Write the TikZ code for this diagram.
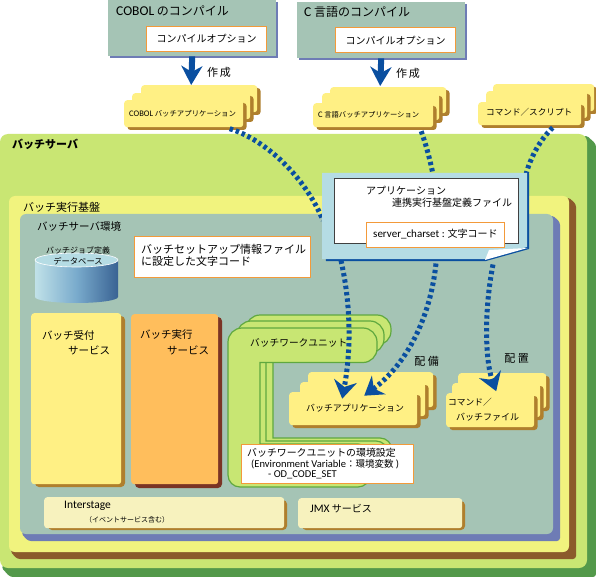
\documentclass[tikz,border=0pt]{standalone}
\usepackage{fontspec}
\setmainfont{Noto Sans CJK JP}
\newfontfamily\lat{Carlito}
\usetikzlibrary{arrows.meta,calc}
\definecolor{cgreen}{HTML}{C9E673}
\definecolor{cdgreen}{HTML}{53994A}
\definecolor{cyel}{HTML}{F1F37E}
\definecolor{cbrown}{HTML}{8B5A2B}
\definecolor{cteal}{HTML}{A5C4B5}
\definecolor{cpurp}{HTML}{6E7CB5}
\definecolor{cnote}{HTML}{B5DCE4}
\definecolor{cblue}{HTML}{0A4FA0}
\definecolor{corange}{HTML}{F39A3A}
\definecolor{ccard}{HTML}{FFF084}
\definecolor{ccardsh}{HTML}{AF7F2D}
\definecolor{cexec}{HTML}{FFBE5C}
\definecolor{cexecsh}{HTML}{7B3425}
\definecolor{cpale}{HTML}{F7F2BE}
\definecolor{cwork}{HTML}{C8E673}
\definecolor{cworkl}{HTML}{5FA83F}
\newcommand\fs[1]{\fontsize{#1}{#1}\selectfont}
\newcommand\bevelbox[8]{%
  \fill[#7,rounded corners=3pt] (#3-1,#2+1) -- (#3+#5,#2+1+#5) -- (#3+#5,#4+#5) -- (#1+1+#5,#4+#5) -- (#1+1,#4-1) -- cycle;
  \fill[#6,rounded corners=#8] (#1,#2) rectangle (#3,#4);
}
\tikzset{
  cardbox/.style={rounded corners=3pt,inner sep=0pt,align=left,text=black},
  lbl/.style={inner sep=0pt,anchor=west,align=left,text=black},
  orangebox/.style={draw=corange,line width=1pt,fill=white,inner sep=0pt},
  titlebox/.style={fill=cteal,inner sep=0pt},
  dotline/.style={cblue,line width=5pt,dash pattern=on 3.4pt off 3pt,-{Stealth[length=18pt,width=23pt,inset=6pt]}},
  dotplain/.style={cblue,line width=5pt,dash pattern=on 3.4pt off 3pt},
  makearrow/.style={cblue,line width=6pt,-{Stealth[length=19pt,width=21pt,inset=6pt]}},
  worklayer/.style={fill=cwork,draw=cworkl,line width=1.2pt},
}
\newcommand\cardlayer[8][]{%
  \fill[#7,rounded corners=3pt] (#3+3.5,#4+3) rectangle (#5+3.5,#6+3);
  \node[cardbox,fill=#8,minimum width=#5pt-#3pt,minimum height=#6pt-#4pt,anchor=north west] (#2) at (#3,#4) {#1};
}
% C-shaped work unit layer: L T R B(top bar) ix iy R2 B2
\newcommand\worklayershape[8]{%
  \draw[worklayer,rounded corners=14pt] (#1,#2+30) -- (#1,#2) -- (#3,#2) -- (#3,#4) [sharp corners] -- (#5,#4) -- (#5,#6) [rounded corners=12pt] -- (#7,#6) -- (#7,#8) -- (#1,#8) -- cycle;
}
\begin{document}
\begin{tikzpicture}[x=1pt,y=-1pt]
\useasboundingbox (0,0) rectangle (596,577);
\fill[white] (0,0) rectangle (596,577);

% compile boxes
\fill[cpurp] (110,2) rectangle (278,58);
\node[titlebox,minimum width=168pt,minimum height=56pt,anchor=north west] (cobolc) at (108,0) {};
\node[lbl] (cobolt) at (116,11) {\fs{12}{\lat\fs{13.5}COBOL} のコンパイル};
\node[orangebox,minimum width=120pt,minimum height=25pt,anchor=north west] (cobolo) at (146,26) {\fs{10}コンパイルオプション};

\fill[cpurp] (299,4) rectangle (467,60);
\node[titlebox,minimum width=168pt,minimum height=56pt,anchor=north west] (cc) at (297,2) {};
\node[lbl] (ct) at (304,12) {\fs{12}{\lat\fs{13.5}C} 言語のコンパイル};
\node[orangebox,minimum width=120pt,minimum height=25pt,anchor=north west] (co) at (335,27.5) {\fs{10}コンパイルオプション};

% server panels
\bevelbox{0}{134}{587}{568}{9}{cgreen}{cdgreen}{8pt}
\node[lbl] (srv) at (12,144) {\fs{11}\bfseries バッチサーバ};
\bevelbox{9}{196}{569}{552}{7}{cyel}{cbrown}{6pt}
\node[lbl] (base) at (23,207) {\fs{11}バッチ実行基盤};
\bevelbox{20}{214}{553}{534}{7}{cteal}{cpurp}{6pt}
\node[lbl] (env) at (37,227) {\fs{10.5}バッチサーバ環境};

% database
\shade[left color=cnote!85!white,right color=cblue!75!black!80,middle color=cblue!35!cnote]
  (35,260) -- (35,297) arc[start angle=180,end angle=360,x radius=41.5,y radius=-6] -- (118,260) arc[start angle=0,end angle=180,x radius=41.5,y radius=-7] -- cycle;
\draw[white,fill=cnote,line width=.6pt] (76.5,260) ellipse[x radius=41.5,y radius=7];
\node[inner sep=0pt] (db1) at (78,250) {\fs{8}バッチジョブ定義};
\node[inner sep=0pt] (db2) at (78,261) {\fs{8.3}データベース};

% setup box
\node[orangebox,minimum width=176pt,minimum height=41pt,anchor=north west] (setup) at (134,236) {};
\node[lbl] (setup1) at (141,249) {\fs{11}バッチセットアップ情報ファイル};
\node[lbl] (setup2) at (141,261) {\fs{11}に設定した文字コード};

% services
\fill[ccardsh,rounded corners=4pt] (35,316) rectangle (125,487);
\node[cardbox,fill=ccard,minimum width=90pt,minimum height=171pt,anchor=north west] (recv) at (31,313) {};
\node[lbl] (recv1) at (42,335) {\fs{10.5}バッチ受付};
\node[lbl] (recv2) at (68,350) {\fs{10.5}サービス};
\fill[cexecsh,rounded corners=4pt] (135,317) rectangle (222,488);
\node[cardbox,fill=cexec,minimum width=87pt,minimum height=170pt,anchor=north west] (exec) at (131,314) {};
\node[lbl] (exec1) at (140,335) {\fs{10.5}バッチ実行};
\node[lbl] (exec2) at (167,350) {\fs{10.5}サービス};

% work unit layers (C-shaped)
\worklayershape{246}{315}{391}{345}{273}{438}{392}{470}
\worklayershape{237}{321}{384}{353}{266}{441}{388}{478}
\worklayershape{228}{328}{377}{362.5}{260}{444}{370}{487}
\node[lbl] (wu) at (250,343) {\fs{9.7}バッチワークユニット};

% batch application stack
\cardlayer[]{appc}{308}{372}{433}{407}{ccardsh}{ccard}
\cardlayer[]{appb}{300}{382}{425}{416}{ccardsh}{ccard}
\cardlayer[]{appa}{289}{392}{417}{425}{ccardsh}{ccard}
\node[lbl] (appt) at (306,408) {\fs{8.9}バッチアプリケーション};
% command stack
\cardlayer[]{cmdc}{458}{373}{546}{408}{ccardsh}{ccard}
\cardlayer[]{cmdb}{452}{383}{540}{417}{ccardsh}{ccard}
\cardlayer[]{cmda}{446}{393}{534}{427}{ccardsh}{ccard}
\node[lbl] (cmd1) at (448,402) {\fs{8.7}コマンド／};
\node[lbl] (cmd2) at (456,417) {\fs{9}バッチファイル};

\node[inner sep=0pt] (hai1) at (426.5,361) {\fs{11}配\hspace{2.5pt}備};
\node[inner sep=0pt] (hai2) at (516.5,359) {\fs{11}配\hspace{2.5pt}置};

% env box
\node[orangebox,minimum width=172pt,minimum height=39pt,anchor=north west] (wenv) at (241,444) {};
\node[lbl] (wenv1) at (247,453) {\fs{9.9}バッチワークユニットの環境設定};
\node[lbl] (wenv2) at (251,464) {{\lat\fs{10.5}(Environment Variable}\fs{9.5}：環境変数 {\lat\fs{10.5})}};
\node[lbl] (wenv3) at (268,475) {\lat\fs{10.5}- OD\_CODE\_SET};

% bottom services
\fill[ccardsh,rounded corners=4pt] (48,500) rectangle (287,530);
\node[cardbox,fill=cpale,minimum width=240pt,minimum height=31pt,anchor=north west] (inter) at (44,497) {};
\node[lbl] (inter1) at (64,506) {\lat\fs{11.5}Interstage};
\node[lbl] (inter2) at (85,520) {\fs{7}（イベントサービス含む）};
\fill[ccardsh,rounded corners=4pt] (302,501) rectangle (465,530);
\node[cardbox,fill=cpale,minimum width=164pt,minimum height=30pt,anchor=north west] (jmx) at (298,498) {};
\node[lbl] (jmx1) at (310,509) {\fs{10}{\lat\fs{11.5}JMX} サービス};

% source cards
\cardlayer[]{cobc}{141}{85}{257}{112}{ccardsh}{ccard}
\cardlayer[]{cobb}{132}{93}{250}{119}{ccardsh}{ccard}
\cardlayer[]{coba}{124}{100}{243}{127}{ccardsh}{ccard}
\node[lbl] (cobt) at (129,114) {\fs{7.4}{\lat\fs{8.5}COBOL} バッチアプリケーション};
\cardlayer[]{lcc}{330}{87}{446}{113}{ccardsh}{ccard}
\cardlayer[]{lcb}{322}{93}{439}{120}{ccardsh}{ccard}
\cardlayer[]{lca}{313}{103}{433}{127}{ccardsh}{ccard}
\node[lbl] (lct) at (318,115) {\fs{7.3}{\lat\fs{8.5}C} 言語バッチアプリケーション};
\cardlayer[]{scc}{493}{84}{594}{111}{ccardsh}{ccard}
\cardlayer[]{scb}{486}{91}{587}{118}{ccardsh}{ccard}
\cardlayer[]{sca}{478}{102}{581}{125}{ccardsh}{ccard}
\node[lbl] (sct) at (486,112) {\fs{8.6}コマンド／スクリプト};

% phantom geometry for the note
\node[inner sep=0pt,minimum width=206pt,minimum height=87pt] (note) at (425,216.5) {};

% block arrows
\draw[makearrow] (cobolc.south) -- ($(coba.north)+(7.5,-15)$);
\draw[makearrow] (cc.south) -- ($(lca.north)+(7,-17)$);
\node[inner sep=0pt] (made1) at (219,72) {\fs{11}作\hspace{2pt}成};
\node[inner sep=0pt] (made2) at (408,73) {\fs{11}作\hspace{2pt}成};

% dotted connectors
\draw[dotplain] ($(coba)+(46,15)$) .. controls ($(note)+(-160,-77)$) and ($(note)+(-120,-40)$) .. ($(note)+(-102,4)$);
\draw[dotplain] ($(lca)+(48,16)$) .. controls ($(note)+(1,-72)$) and ($(note)+(5,-57)$) .. ($(note)+(8,-42)$);
\draw[dotplain] ($(sca)+(23,14)$) .. controls ($(note)+(115,-77)$) and ($(note)+(105,-58)$) .. ($(note)+(101,-42)$);
\draw[dotline] ($(note)+(-84,44)$) .. controls ($(note)+(-75,84)$) and ($(note)+(-73,129)$) .. ($(appa)+(-11,-10)$);
\draw[dotline] ($(note)+(11,47)$) .. controls ($(note)+(5,104)$) and ($(note)+(-20,149)$) .. ($(appa)+(11,-13)$);
\draw[dotline] ($(note)+(68,48)$) .. controls ($(note)+(59,94)$) and ($(note)+(60,144)$) .. ($(cmda)+(6,-19)$);

% note on top
\fill[cblue] (323,175) -- (529,174) -- (529,249) -- (486,261) -- (326,261) -- cycle;
\fill[cnote] (322,173) -- (527,173) -- (527,247) -- (485,259) -- (322,259) -- cycle;
\fill[white] (485,260) -- (527.5,248) -- (489,250) -- cycle;
\draw[black!75,fill=white,line width=.8pt] (334,178) rectangle (518,243);
\node[lbl] (n1) at (366,191) {\fs{10}アプリケーション};
\node[lbl] (n2) at (392,203) {\fs{10}連携実行基盤定義ファイル};
\node[orangebox,minimum width=138pt,minimum height=25pt,anchor=north west] (charset) at (366,222) {};
\node[lbl] (n3) at (373,234) {{\lat\fs{11}server\_charset :} \fs{10}文字コード};
\end{tikzpicture}
\end{document}
